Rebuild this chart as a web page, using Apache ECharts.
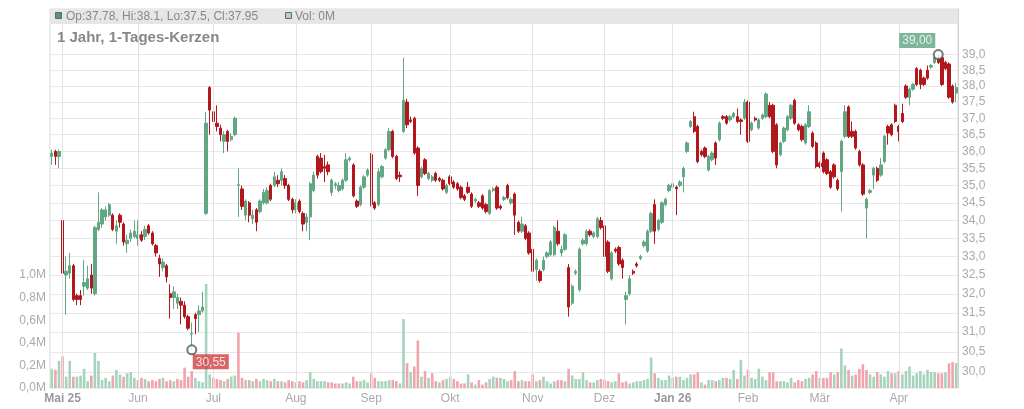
<!DOCTYPE html>
<html><head><meta charset="utf-8">
<script src="https://cdn.jsdelivr.net/npm/echarts@6/dist/echarts.min.js"></script>
<style>html,body{margin:0;padding:0;background:#fff}#c{width:1024px;height:409px}</style>
</head><body><div id="c"></div>
<script>
// ---- data ----
const holidays = ['2025-05-01','2025-12-24','2025-12-25','2025-12-26','2025-12-31','2026-01-01','2026-04-03','2026-04-06'];
const firstDay = '2025-04-28';
const lastDay = '2026-04-27';
const monthNames = ['Jan','Feb','Mär','Apr','Mai','Jun','Jul','Aug','Sep','Okt','Nov','Dez'];
const priceTicks = [30.0,30.5,31.0,31.5,32.0,32.5,33.0,33.5,34.0,34.5,35.0,35.5,36.0,36.5,37.0,37.5,38.0,38.5,39.0];
const volTicks = [0,0.2,0.4,0.6,0.8,1.0];
const titleText = '1 Jahr, 1-Tages-Kerzen';
const legendText = 'Op:37.78, Hi:38.1, Lo:37.5, Cl:37.95';
const volLegendText = 'Vol: 0M';
// [open, close, low, high]
const candles = [
[35.85,35.95,35.6,36.05],[36.0,35.85,35.6,36.05],[35.85,36.0,35.5,36.05],
[34.0,32.55,32.15,34.6],[32.5,32.6,31.45,33.0],[32.55,32.75,32.4,33.1],[32.75,31.85,31.8,32.8],[31.95,31.85,31.7,32.0],
[31.95,31.85,31.7,32.1],[32.2,32.3,31.95,32.9],[32.15,32.4,32.1,32.75],[32.5,32.15,32.0,32.8],[32.0,33.8,31.95,33.85],
[33.75,33.95,33.7,34.8],[33.9,34.3,33.8,34.35],[34.1,34.3,34.0,34.4],[34.15,34.45,34.1,34.5],[34.15,33.75,33.7,34.2],
[33.7,33.85,33.35,34.0],[34.15,33.95,33.8,34.2],[33.9,33.4,33.3,33.95],[33.35,33.45,33.1,33.6],[33.5,33.65,33.4,33.75],
[33.55,33.7,33.5,34.0],[33.5,33.6,33.3,34.0],[33.6,33.45,33.4,33.7],[33.55,33.75,33.45,33.85],[33.85,33.65,33.6,33.9],
[33.65,33.35,33.3,33.7],[33.3,33.1,33.0,33.35],[32.95,32.8,32.45,33.05],[32.7,32.85,32.6,32.95],[32.75,32.45,32.3,32.8],
[32.0,31.9,31.35,32.25],[31.9,32.05,31.6,32.2],[31.75,31.9,31.6,32.0],[31.8,31.7,31.2,31.9],[31.7,31.4,31.35,31.8],
[31.4,31.1,31.05,31.45],[30.95,30.97,30.55,31.25],[31.45,31.35,30.95,31.5],[31.45,31.55,31.0,31.7],[31.55,31.65,31.5,32.05],
[34.2,36.85,34.15,37.2],[37.95,37.25,36.5,38.0],[37.2,36.9,36.25,37.4],[36.85,36.75,36.6,37.4],[36.7,36.5,36.3,36.8],
[36.3,36.5,35.95,36.6],[36.6,36.3,36.0,36.65],[36.35,36.45,36.3,36.55],[36.5,37.0,36.45,37.05],[35.0,35.02,34.1,35.5],
[34.9,34.4,34.3,35.0],[34.15,34.55,34.0,34.6],[34.5,34.15,33.95,34.55],[34.05,34.15,33.9,34.3],[34.3,33.95,33.7,34.35],
[34.25,34.55,34.2,34.6],[34.5,34.8,34.45,34.9],[34.5,34.85,34.45,34.95],[35.0,34.6,34.55,35.05],[35.0,35.25,34.95,35.4],
[35.15,35.05,34.95,35.3],[35.15,35.4,35.0,35.5],[35.2,35.0,34.9,35.3],[35.0,34.6,34.55,35.05],[34.6,34.3,34.2,34.65],
[34.3,34.5,34.2,34.6],[34.55,34.25,34.2,34.6],[34.2,33.9,33.7,34.25],[33.95,34.1,33.7,34.2],[34.1,35.05,33.45,35.1],
[34.85,35.3,34.8,35.4],[35.85,35.3,35.2,35.9],[35.8,35.4,35.35,35.95],[35.55,35.5,35.1,35.9],[35.6,35.4,35.3,35.7],
[34.8,35.15,34.7,35.2],[35.0,35.05,34.9,35.1],[34.85,35.0,34.8,35.1],[34.9,35.15,34.85,35.2],[35.15,35.75,35.1,35.95],
[35.75,35.8,35.7,35.85],[35.6,34.7,34.65,35.65],[34.55,34.4,34.35,34.6],[34.45,34.95,34.4,35.0],[34.95,35.25,34.9,35.3],
[35.3,35.45,35.25,35.5],[35.9,34.45,34.4,35.95],[34.5,34.35,34.3,34.55],[34.45,35.4,34.4,35.5],[35.25,35.55,35.2,35.6],
[35.8,36.05,35.75,36.1],[36.05,36.6,36.0,36.7],[36.6,35.85,35.8,36.65],[35.85,35.2,35.15,35.9],[35.3,35.25,35.1,35.4],
[36.6,37.55,36.55,38.9],[37.5,36.8,36.7,37.6],[36.95,36.9,36.85,37.05],[37.0,35.95,35.9,37.05],[36.1,35.0,34.7,36.15],
[35.25,35.5,35.2,35.55],[35.75,35.35,35.3,35.8],[35.2,35.35,35.15,35.4],[35.15,35.25,35.1,35.3],[35.35,35.15,35.1,35.4],
[35.2,35.15,35.1,35.25],[35.15,34.9,34.85,35.2],[34.8,35.0,34.75,35.05],[35.25,35.05,35.0,35.3],[35.1,34.95,34.9,35.15],
[35.05,34.9,34.85,35.1],[34.95,34.65,34.6,35.0],[34.7,34.6,34.55,34.75],[34.95,34.8,34.75,35.1],[34.75,34.4,34.35,34.8],
[34.55,34.6,34.5,34.65],[34.5,34.4,34.35,34.55],[34.7,34.35,34.3,34.75],[34.45,34.25,34.2,34.5],[34.2,34.85,34.15,34.9],
[34.85,34.9,34.8,34.95],[34.95,34.35,34.3,35.0],[34.4,34.35,34.3,34.45],[34.6,34.65,34.55,34.7],[35.0,34.65,34.6,35.05],
[34.5,34.6,34.45,34.65],[34.75,34.15,33.6,34.8],[33.95,33.7,33.65,34.0],[33.7,33.9,33.65,34.1],[33.85,33.5,33.45,33.9],
[33.65,33.1,33.05,33.7],[33.2,32.6,32.45,33.25],[32.65,32.9,32.35,32.95],[32.6,32.35,32.3,32.65],[32.65,32.9,32.6,33.0],
[33.0,33.1,32.95,33.15],[33.05,33.4,33.0,33.45],[33.05,33.8,33.0,33.85],[33.7,33.35,33.3,34.0],[33.1,33.2,33.0,33.3],
[33.2,33.6,33.15,33.65],[32.7,31.65,31.4,32.8],[31.75,32.2,31.7,32.25],[32.55,32.6,32.5,32.65],[32.1,33.2,32.05,33.25],
[33.35,33.45,33.3,33.5],[33.35,33.7,33.3,33.75],[33.7,33.6,33.55,33.75],[33.55,33.65,33.5,33.7],[33.55,34.05,33.5,34.1],
[34.0,33.8,33.75,34.1],[33.85,33.0,32.95,33.9],[33.4,32.6,32.55,33.45],[32.4,33.1,32.35,33.15],[33.2,33.15,33.1,33.25],
[33.25,32.8,32.75,33.3],[32.9,32.7,32.4,32.95],[31.85,31.95,31.2,32.05],[32.0,32.4,31.95,32.5],[32.6,32.55,32.5,32.65],
[32.8,32.75,32.7,32.85],[32.95,33.0,32.9,33.05],[33.3,33.4,33.25,33.45],[33.15,33.7,33.1,33.75],[33.7,34.2,33.65,34.25],
[34.45,33.7,33.35,34.6],[33.75,34.0,33.7,34.05],[33.95,34.5,33.9,34.55],[34.45,34.6,34.4,34.65],[34.85,35.0,34.8,35.05],
[34.95,35.05,34.9,35.1],[34.95,34.9,34.15,35.0],[35.0,35.1,34.95,35.15],[35.25,35.5,34.8,35.55],[36.0,36.25,35.95,36.3],
[36.75,36.9,36.7,36.95],[37.05,36.6,36.55,37.2],[36.75,35.7,35.65,36.8],[36.0,35.9,35.85,36.05],[36.1,35.85,35.8,36.15],
[35.45,35.85,35.4,35.9],[35.75,35.95,35.7,36.0],[36.25,35.8,35.6,36.3],[36.35,36.85,36.3,36.9],[37.05,37.0,36.95,37.1],
[37.05,36.85,36.8,37.1],[36.95,37.05,36.9,37.1],[37.05,37.15,37.0,37.2],[37.05,36.9,36.85,37.3],[36.95,36.9,36.5,37.0],
[37.0,37.5,36.95,37.6],[37.5,36.3,36.25,37.55],[36.65,36.85,36.6,36.9],[37.0,36.95,36.9,37.05],[36.7,36.95,36.65,37.0],
[37.0,37.1,36.95,37.15],[37.05,37.75,37.0,37.8],[37.4,37.05,37.0,37.5],[37.4,36.0,35.95,37.45],[36.8,35.6,35.5,36.85],
[35.9,36.25,35.85,36.3],[36.3,36.7,36.25,36.75],[36.65,37.05,36.6,37.1],[37.0,37.4,36.95,37.45],[37.55,36.85,36.8,37.6],
[36.8,36.65,36.6,36.85],[36.75,36.35,36.3,36.8],[36.25,36.8,36.2,36.85],[36.75,37.2,36.7,37.4],[36.55,36.15,36.1,36.6],
[36.25,35.55,35.5,36.3],[35.65,35.55,35.5,35.7],[35.95,35.4,35.35,36.0],[35.75,35.35,35.3,35.8],[35.4,34.95,34.9,35.45],
[35.6,35.25,35.2,35.65],[35.15,34.9,34.85,35.2],[35.4,36.3,34.25,36.35],[36.45,37.2,36.4,37.4],[37.35,36.45,36.4,37.4],
[36.6,36.45,36.4,36.9],[36.6,36.1,36.05,36.65],[36.0,35.6,35.55,36.05],[35.6,34.75,34.7,35.65],[34.35,34.6,33.5,34.65],
[34.8,34.85,34.75,34.9],[35.3,35.5,34.9,35.55],[35.5,35.15,35.1,35.55],[35.3,35.6,35.25,35.8],[35.7,36.45,35.65,36.5],
[36.75,36.55,36.2,36.8],[36.8,36.5,36.45,36.85],[37.4,36.9,36.85,37.45],[36.75,36.6,36.3,36.8],[37.15,36.9,36.85,37.45],
[38.0,37.65,37.6,38.05],[37.65,37.9,37.4,37.95],[37.9,38.05,37.85,38.1],[38.55,38.05,38.0,38.6],[38.5,38.05,37.9,38.55],
[38.25,38.05,38.0,38.3],[38.5,38.25,38.2,38.65],[38.6,38.65,38.55,38.7],[38.75,38.9,38.7,38.95],[38.85,38.75,38.7,39.0],
[38.9,38.05,38.0,38.95],[38.75,38.55,38.5,38.8],[38.7,37.65,37.6,38.75],[38.0,37.5,37.45,38.05],[37.78,37.95,37.5,38.1]
];
// volume in millions
const volumes = [
0.17,0.16,0.24,0.28,0.10,0.24,0.10,0.10,0.11,0.17,0.06,0.11,0.31,0.24,0.07,0.09,0.06,0.11,0.16,
0.12,0.10,0.13,0.14,0.09,0.07,0.09,0.08,0.06,0.07,0.06,0.08,0.09,0.06,0.07,0.06,0.08,0.07,0.18,0.10,0.15,
0.09,0.06,0.05,0.92,0.12,0.09,0.08,0.07,0.06,0.08,0.10,0.11,0.49,0.09,0.07,0.07,0.06,0.08,0.06,0.08,0.07,0.06,0.08,0.06,
0.06,0.05,0.07,0.06,0.05,0.06,0.05,0.07,0.14,0.08,
0.06,0.06,0.06,0.05,0.05,0.04,0.04,0.04,0.05,0.04,
0.10,0.06,0.06,0.07,0.05,0.13,0.09,0.06,0.06,0.06,
0.07,0.07,0.06,0.04,0.61,0.22,0.14,0.19,0.42,0.10,
0.15,0.09,0.13,0.06,0.05,0.07,0.08,0.10,0.08,0.06,
0.04,0.04,0.12,0.05,0.03,0.07,0.03,0.05,0.08,0.10,
0.09,0.09,0.08,0.06,0.07,0.15,0.06,0.07,0.06,0.06,
0.12,0.06,0.07,0.10,0.06,0.04,0.06,0.07,0.07,0.06,
0.17,0.11,0.08,0.08,0.14,0.07,0.05,0.05,0.07,0.08,
0.07,0.06,0.05,0.06,0.13,0.05,0.06,0.04,0.05,0.06,
0.06,0.07,0.08,0.27,0.13,0.09,0.07,0.07,0.11,0.09,
0.10,0.10,0.07,0.09,0.12,0.12,0.14,0.05,0.03,0.07,
0.07,0.06,0.07,0.09,0.09,0.08,0.16,0.08,0.25,0.11,
0.16,0.09,0.08,0.17,0.10,0.07,0.14,0.14,0.06,0.06,
0.06,0.05,0.09,0.05,0.07,0.06,0.08,0.09,0.12,0.15,
0.09,0.09,0.09,0.14,0.12,0.14,0.35,0.20,0.16,0.11,
0.12,0.17,0.21,0.16,0.12,0.10,0.14,0.12,0.10,0.15,
0.13,0.13,0.15,0.12,0.15,0.19,0.11,0.13,0.15,0.12,
0.16,0.14,0.14,0.13,0.13,0.14,0.22,0.23,0.22
];

// ---- trading-day categories ----
const dates = [];
(function(){
  const d = new Date(firstDay + 'T00:00:00Z');
  const end = new Date(lastDay + 'T00:00:00Z');
  while (d <= end) {
    const s = d.toISOString().slice(0,10);
    const wd = d.getUTCDay();
    if (wd !== 0 && wd !== 6 && holidays.indexOf(s) < 0) dates.push(s);
    d.setUTCDate(d.getUTCDate() + 1);
  }
})();
const monthStarts = [];
for (let i = 1; i < dates.length; i++) {
  if (dates[i].slice(5,7) !== dates[i-1].slice(5,7)) monthStarts.push(i);
}
const firstLabel = monthStarts[0];

// extremes
let iMax = 0, iMin = 0;
candles.forEach((c, i) => {
  if (c[3] > candles[iMax][3]) iMax = i;
  if (c[2] < candles[iMin][2]) iMin = i;
});

const UP = '#62a784', DOWN = '#b1181d';
const VUP = '#a5d3bc', VDOWN = '#f0a4ad';
const FONT = 'Liberation Sans, Arial, sans-serif';
const fmt1 = v => Number(v).toFixed(1).replace('.', ',');
const fmt2 = v => Number(v).toFixed(2).replace('.', ',');

const volData = volumes.map((v, i) => {
  const prev = i > 0 ? candles[i-1][1] : candles[i][0];
  return { value: v, itemStyle: { color: candles[i][1] >= prev ? VUP : VDOWN } };
});

const chart = echarts.init(document.getElementById('c'), null, { renderer: 'canvas' });
chart.setOption({
  animation: false,
  textStyle: { fontFamily: FONT },
  grid: { left: 50, right: 66, top: 9, bottom: 21, show: true, borderColor: '#dcdcdc', borderWidth: 1, backgroundColor: 'transparent' },
  xAxis: {
    type: 'category', data: dates, boundaryGap: true,
    axisLine: { show: false }, axisTick: { show: false }, splitLine: { show: false },
    axisLabel: {
      interval: (idx) => monthStarts.indexOf(idx) >= 0,
      margin: 5,
      formatter: (val, idx) => {
        const m = parseInt(val.slice(5,7), 10);
        const name = monthNames[m-1];
        if (m === 1 || idx === firstLabel) return '{b|' + name + ' ' + val.slice(2,4) + '}';
        return '{n|' + name + '}';
      },
      rich: {
        b: { fontFamily: FONT, fontSize: 12, fontWeight: 'bold', color: '#999' },
        n: { fontFamily: FONT, fontSize: 12, color: '#aaa' }
      }
    }
  },
  yAxis: [
    {
      type: 'log', position: 'right', min: 29.6, max: 40.5, logBase: 10,
      axisLine: { show: true, lineStyle: { color: '#d0d0d0' } },
      axisTick: { show: false, customValues: priceTicks },
      axisLabel: { customValues: priceTicks, formatter: fmt1, color: '#aaa', fontSize: 12, fontFamily: FONT, margin: 4 },
      splitLine: { show: true, lineStyle: { color: '#e8e8e8', width: 1 } }
    },
    {
      type: 'value', position: 'left', min: 0, max: 379/113,
      axisLine: { show: false }, axisTick: { show: false, customValues: volTicks },
      axisLabel: { customValues: volTicks, formatter: v => fmt1(v) + 'M', color: '#aaa', fontSize: 12, fontFamily: FONT, margin: 4 },
      splitLine: { show: false }
    }
  ],
  series: [
    {
      type: 'bar', name: 'vol', xAxisIndex: 0, yAxisIndex: 1, data: volData, barWidth: '72%', z: 1,
      markLine: {
        silent: true, symbol: ['none','none'], label: { show: false },
        lineStyle: { color: '#e2e2e2', width: 1, type: 'solid' },
        data: monthStarts.map(i => ({ xAxis: i }))
      }
    },
    {
      type: 'candlestick', name: 'kurs', xAxisIndex: 0, yAxisIndex: 0, data: candles, barWidth: '80%', z: 3,
      itemStyle: { color: UP, color0: DOWN, borderColor: UP, borderColor0: DOWN, borderWidth: 1 }
    },
    {
      type: 'scatter', xAxisIndex: 0, yAxisIndex: 0, z: 5, symbol: 'emptyCircle', symbolSize: 9,
      itemStyle: { color: '#555', borderWidth: 1 },
      data: [
        { value: [iMax, candles[iMax][3]], label: { show: true, position: 'top', distance: 1, offset: [-21, 0], formatter: p => fmt2(p.value[1]), backgroundColor: '#5fa382', color: '#fff', fontSize: 12, fontFamily: FONT, padding: [2, 3, 1, 3] } },
        { value: [iMin, candles[iMin][2]], label: { show: true, position: 'bottom', distance: 1, offset: [19, -2], formatter: p => fmt2(p.value[1]), backgroundColor: '#cf4040', color: '#fff', fontSize: 12, fontFamily: FONT, padding: [2, 3, 1, 3] } }
      ]
    }
  ],
  graphic: [
    { type: 'rect', left: 50, top: 9, z: 10, shape: { width: 908, height: 15 }, style: { fill: '#e6e6e6' } },
    { type: 'rect', left: 55, top: 12, z: 11, shape: { width: 6, height: 6 }, style: { fill: '#4f9a74', stroke: '#666', lineWidth: 1 } },
    { type: 'text', left: 66, top: 11, z: 11, style: { text: legendText, fill: '#888', font: '12px ' + FONT } },
    { type: 'rect', left: 285, top: 12, z: 11, shape: { width: 6, height: 6 }, style: { fill: '#a9d6bf', stroke: '#666', lineWidth: 1 } },
    { type: 'text', left: 295, top: 11, z: 11, style: { text: volLegendText, fill: '#888', font: '12px ' + FONT } },
    { type: 'text', left: 57, top: 30, z: 11, style: { text: titleText, fill: '#888', font: 'bold 15px ' + FONT } }
  ]
});
</script>
</body></html>
